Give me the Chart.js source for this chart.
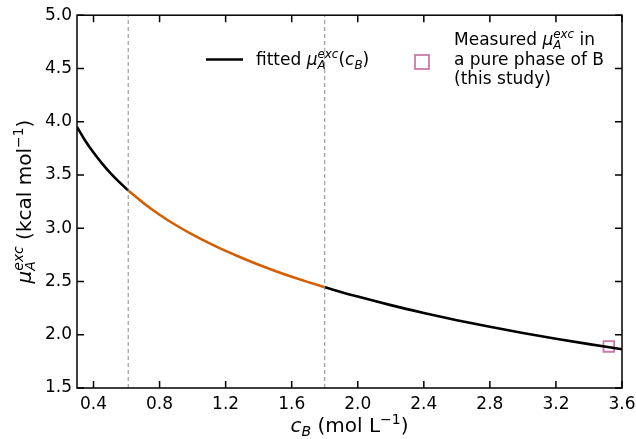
<!DOCTYPE html>
<html>
<head>
<meta charset="utf-8">
<script src="https://cdn.jsdelivr.net/npm/chart.js@4.4.1/dist/chart.umd.min.js"></script>
<style>
  html, body { margin: 0; padding: 0; background: #fff; }
  #wrap { width: 636px; height: 439px; }
</style>
</head>
<body>
<div id="wrap"><canvas id="main-chart"></canvas></div>
<script>
// ── Data ──────────────────────────────────────────────────────────────────────
// fitted curve, split at the two bounds of the fitting window
const lowX  = [0.30, 0.35, 0.40, 0.45, 0.50, 0.55, 0.61];
const lowY  = [3.951, 3.822, 3.710, 3.611, 3.522, 3.442, 3.355];
const midX  = [0.61, 0.70, 0.80, 0.90, 1.00, 1.10, 1.20, 1.30, 1.40, 1.50, 1.60, 1.70, 1.80];
const midY  = [3.355, 3.240, 3.127, 3.028, 2.940, 2.860, 2.787, 2.720, 2.657, 2.599, 2.545, 2.494, 2.446];
const highX = [1.80, 2.00, 2.20, 2.40, 2.60, 2.80, 3.00, 3.20, 3.40, 3.60];
const highY = [2.446, 2.358, 2.278, 2.205, 2.137, 2.075, 2.017, 1.963, 1.912, 1.864];
// measured value in pure B
const measuredX = [3.52];
const measuredY = [1.89];
// fitting window bounds (dashed)
const boundsX = [0.61, 1.80];
const xTicks = [0.4, 0.8, 1.2, 1.6, 2.0, 2.4, 2.8, 3.2, 3.6];
const yTicks = [1.5, 2.0, 2.5, 3.0, 3.5, 4.0, 4.5, 5.0];

const FONT = "'DejaVu Sans', sans-serif";
const ORANGE = "#d55e00";
const PINK = "#cc79a7";

const pts = (xs, ys) => xs.map((x, i) => ({ x, y: ys[i] }));

// ── Rich text (sub/superscripts) ──────────────────────────────────────────────
function fontOf(size, it) { return (it ? "italic " : "") + size + "px " + FONT; }

function richWidth(ctx, parts, size) {
  let w = 0;
  for (const p of parts) {
    ctx.font = fontOf(size, p.it);
    w += ctx.measureText(p.t).width;
    let sw = 0;
    if (p.sub) { ctx.font = fontOf(size * 0.7, p.subIt); sw = Math.max(sw, ctx.measureText(p.sub).width); }
    if (p.sup) { ctx.font = fontOf(size * 0.7, p.supIt); sw = Math.max(sw, ctx.measureText(p.sup).width); }
    w += sw;
  }
  return w;
}

function drawRich(ctx, parts, x, y, size, align) {
  let cx = align === "center" ? x - richWidth(ctx, parts, size) / 2 : x;
  ctx.textAlign = "left";
  ctx.textBaseline = "alphabetic";
  ctx.fillStyle = "#000";
  for (const p of parts) {
    ctx.font = fontOf(size, p.it);
    ctx.fillText(p.t, cx, y);
    cx += ctx.measureText(p.t).width;
    let sw = 0;
    if (p.sub) {
      ctx.font = fontOf(size * 0.7, p.subIt);
      ctx.fillText(p.sub, cx, y + size * 0.22);
      sw = Math.max(sw, ctx.measureText(p.sub).width);
    }
    if (p.sup) {
      ctx.font = fontOf(size * 0.7, p.supIt);
      ctx.fillText(p.sup, cx, y - size * 0.42);
      sw = Math.max(sw, ctx.measureText(p.sup).width);
    }
    cx += sw;
  }
}

const MU = { t: "\u03bc", it: true, sub: "A", subIt: true, sup: "exc", supIt: true };
const yTitle = [MU, { t: " (kcal mol", sup: "\u22121" }, { t: ")" }];
const xTitle = [{ t: "c", it: true, sub: "B", subIt: true }, { t: " (mol L", sup: "\u22121" }, { t: ")" }];
const legFit = [{ t: "fitted " }, MU, { t: "(" }, { t: "c", it: true, sub: "B", subIt: true }, { t: ")" }];
const legMeas1 = [{ t: "Measured " }, MU, { t: " in" }];

// ── Frame, inward ticks, titles and legend ───────────────────────────────────
const framePlugin = {
  id: "frame",
  afterDraw(chart) {
    const { ctx, chartArea: a, scales } = chart;
    ctx.save();
    ctx.setLineDash([]);
    ctx.strokeStyle = "#000";
    ctx.lineWidth = 1.5;
    ctx.strokeRect(a.left, a.top, a.right - a.left, a.bottom - a.top);

    // inward tick marks on all four sides
    const L = 7;
    ctx.lineWidth = 1.5;
    ctx.beginPath();
    xTicks.forEach(v => {
      const px = scales.x.getPixelForValue(v);
      ctx.moveTo(px, a.bottom);
      ctx.lineTo(px, a.bottom - L);
      ctx.moveTo(px, a.top);
      ctx.lineTo(px, a.top + L);
    });
    yTicks.forEach(v => {
      const py = scales.y.getPixelForValue(v);
      ctx.moveTo(a.left, py);
      ctx.lineTo(a.left + L, py);
      ctx.moveTo(a.right, py);
      ctx.lineTo(a.right - L, py);
    });
    ctx.stroke();

    // axis titles
    drawRich(ctx, xTitle, (a.left + a.right) / 2, 432, 20, "center");
    ctx.save();
    ctx.translate(31, (a.top + a.bottom) / 2);
    ctx.rotate(-Math.PI / 2);
    drawRich(ctx, yTitle, 0, 0, 20, "center");
    ctx.restore();

    // legend
    ctx.strokeStyle = "#000";
    ctx.lineWidth = 2.6;
    ctx.beginPath(); ctx.moveTo(206, 59.5); ctx.lineTo(243, 59.5); ctx.stroke();
    drawRich(ctx, legFit, 256, 65, 17, "left");
    ctx.strokeStyle = PINK;
    ctx.lineWidth = 1.8;
    ctx.strokeRect(415, 55, 14, 14);
    drawRich(ctx, legMeas1, 454, 45, 17, "left");
    drawRich(ctx, [{ t: "a pure phase of B" }], 454, 65, 17, "left");
    drawRich(ctx, [{ t: "(this study)" }], 454, 84, 17, "left");
    ctx.restore();
  }
};

// ── Chart ─────────────────────────────────────────────────────────────────────
function renderChart() {
  const ctx = document.getElementById("main-chart");
  const curve = (data, color) => ({
    data, borderColor: color, borderWidth: 2.6, pointRadius: 0,
    cubicInterpolationMode: "monotone", fill: false,
  });
  const bound = x => ({
    data: pts([x, x], [1.5, 5.0]), borderColor: "#888", borderWidth: 1,
    borderDash: [4, 3], pointRadius: 0, fill: false,
  });
  new Chart(ctx, {
    type: "line",
    data: {
      datasets: [
        bound(boundsX[0]),
        bound(boundsX[1]),
        curve(pts(lowX, lowY), "#000"),
        curve(pts(midX, midY), ORANGE),
        curve(pts(highX, highY), "#000"),
        {
          data: pts(measuredX, measuredY), showLine: false,
          pointStyle: "rect", pointRadius: 7.5, borderColor: PINK,
          borderWidth: 1.8, backgroundColor: "rgba(0,0,0,0)",
        },
      ],
    },
    options: {
      responsive: false,
      animation: false,
      layout: { padding: { top: 15, right: 14, left: 0, bottom: 0 } },
      plugins: { legend: { display: false }, tooltip: { enabled: false } },
      scales: {
        x: {
          type: "linear", min: 0.3, max: 3.6,
          afterBuildTicks: s => { s.ticks = xTicks.map(v => ({ value: v })); },
          afterFit: s => { s.height = 51; s.paddingLeft = 0; s.paddingRight = 0; },
          grid: { display: false, drawTicks: false },
          border: { display: false },
          ticks: {
            color: "#000", font: { family: FONT, size: 17 }, padding: 6,
            maxRotation: 0, autoSkip: false,
            callback: v => v.toFixed(1),
          },
        },
        y: {
          type: "linear", min: 1.5, max: 5.0,
          afterBuildTicks: s => { s.ticks = yTicks.map(v => ({ value: v })); },
          afterFit: s => { s.width = 77; },
          grid: { display: false, drawTicks: false },
          border: { display: false },
          ticks: {
            color: "#000", font: { family: FONT, size: 17 }, padding: 5,
            callback: v => v.toFixed(1),
          },
        },
      },
    },
    plugins: [framePlugin],
  });
}

const cv = document.getElementById("main-chart");
cv.width = 636; cv.height = 439;
renderChart();
</script>
</body>
</html>
